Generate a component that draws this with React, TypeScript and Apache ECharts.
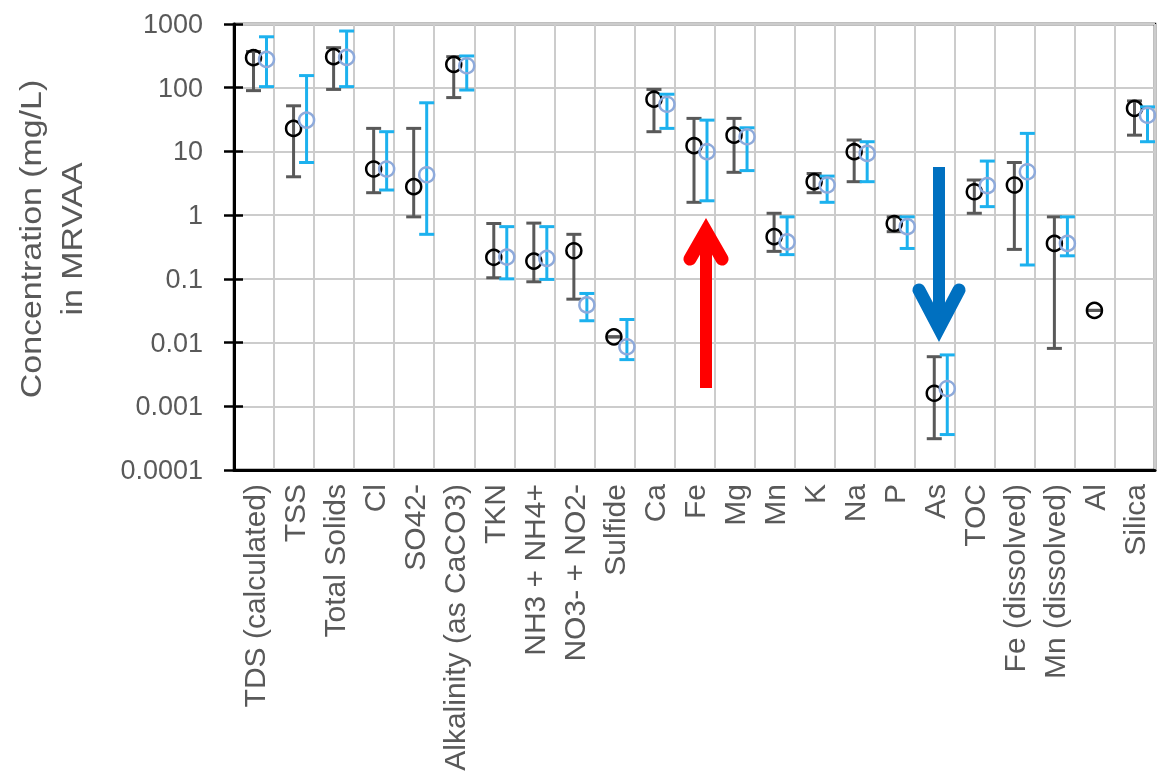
import React, { useEffect, useRef } from "react";
import * as echarts from "echarts";

const categories = [
  "TDS (calculated)", "TSS", "Total Solids", "Cl", "SO42-", "Alkalinity (as CaCO3)", "TKN",
  "NH3 + NH4+", "NO3- + NO2-", "Sulfide", "Ca", "Fe", "Mg", "Mn", "K", "Na", "P", "As", "TOC",
  "Fe (dissolved)", "Mn (dissolved)", "Al", "Silica",
];

// black series (mean, lower, upper)
const blackMean = [296, 23, 307, 5.3, 2.8, 233, 0.218, 0.19, 0.276, 0.0123, 66, 12.3, 18, 0.46, 3.35, 9.9, 0.74, 0.0016, 2.33, 2.97, 0.36, 0.032, 47.5];
const blackLow = [90, 4.0, 94, 2.25, 0.94, 70, 0.104, 0.09, 0.048, 0.0123, 20.4, 1.59, 4.7, 0.27, 2.25, 3.35, 0.55, 0.00031, 1.07, 0.29, 0.0081, 0.032, 18];
const blackHigh = [370, 52, 425, 23, 23, 307, 0.74, 0.75, 0.5, 0.0123, 94, 33, 33, 1.07, 4.5, 15.1, 0.94, 0.006, 3.56, 6.7, 0.94, 0.032, 62];

// blue series (mean, lower, upper)
const blueMean = [279, 31, 300, 5.3, 4.3, 221, 0.22, 0.21, 0.039, 0.0086, 55, 9.9, 17, 0.38, 2.97, 9.3, 0.66, 0.0019, 2.9, 4.8, 0.36, null, 37];
const blueLow = [104, 6.7, 104, 2.48, 0.5, 92, 0.1, 0.098, 0.022, 0.0054, 23, 1.68, 5.0, 0.24, 1.59, 3.35, 0.3, 0.00036, 1.36, 0.165, 0.23, null, 14.2];
const blueHigh = [630, 155, 776, 20.4, 58, 315, 0.66, 0.66, 0.059, 0.023, 79, 31, 23.5, 0.94, 4.1, 14.2, 0.94, 0.0064, 7.06, 19.2, 0.94, null, 50];

const yTickLabels = ["0.0001", "0.001", "0.01", "0.1", "1", "10", "100", "1000"];
const yTitle = ["Concentration (mg/L)", "in MRVAA"];

const FONT = "'Liberation Sans', Arial, sans-serif";
const GRAY_TEXT = "#595959";

function build(mean: (number | null)[], lo: (number | null)[], hi: (number | null)[]) {
  const out: number[][] = [];
  mean.forEach((m, i) => {
    if (m == null) return;
    out.push([i, m, lo[i] as number, hi[i] as number]);
  });
  return out;
}

function makeRender(off: number, barColor: string, circColor: string, circWidth: number) {
  return (params: any, api: any) => {
    const i = api.value(0);
    const c = api.coord([i, api.value(1)]);
    const l = api.coord([i, api.value(2)]);
    const h = api.coord([i, api.value(3)]);
    const x = c[0] + off;
    const cw = 7.5;
    const ls = { stroke: barColor, lineWidth: 3 };
    return {
      type: "group",
      children: [
        { type: "line", shape: { x1: x, y1: l[1], x2: x, y2: h[1] }, style: ls },
        { type: "line", shape: { x1: x - cw, y1: l[1], x2: x + cw, y2: l[1] }, style: ls },
        { type: "line", shape: { x1: x - cw, y1: h[1], x2: x + cw, y2: h[1] }, style: ls },
        { type: "circle", shape: { cx: x, cy: c[1], r: 7.5 }, style: { fill: "none", stroke: circColor, lineWidth: circWidth } },
      ],
    };
  };
}

export default function App() {
  const ref = useRef<HTMLDivElement>(null);
  useEffect(() => {
    const chart = echarts.init(ref.current!, null, { renderer: "svg" });
    const logFmt = (v: number) => {
      const idx = Math.round(Math.log10(v)) + 4;
      return yTickLabels[idx] ?? String(v);
    };
    const yBase = {
      type: "log",
      logBase: 10,
      min: 0.0001,
      max: 1000,
    };
    chart.setOption({
      animation: false,
      textStyle: { fontFamily: FONT },
      grid: {
        left: 234, top: 24, right: 2, bottom: 305,
        show: true, borderColor: "#000", borderWidth: 2.5,
      },
      xAxis: {
        type: "category",
        data: categories,
        boundaryGap: true,
        axisLine: { show: true, lineStyle: { color: "#000", width: 3 } },
        axisTick: { show: false },
        axisLabel: {
          interval: 0, rotate: 90, fontSize: 30, color: GRAY_TEXT, margin: 14, fontFamily: FONT,
        },
        splitLine: { show: true, interval: 0, lineStyle: { color: "#cccccc", width: 2 } },
      },
      yAxis: [
        {
          ...yBase,
          axisLine: { show: true, lineStyle: { color: "#000", width: 3 } },
          axisTick: { show: true, length: 10, lineStyle: { color: "#000", width: 2.5 } },
          axisLabel: { fontSize: 27, color: GRAY_TEXT, margin: 31, formatter: logFmt, fontFamily: FONT },
          splitLine: { show: true, lineStyle: { color: "#cccccc", width: 2 } },
        },
        {
          ...yBase,
          position: "left",
          axisLine: { show: false },
          axisTick: { show: true, inside: true, length: 9, lineStyle: { color: "#000", width: 2.5 } },
          axisLabel: { show: false },
          splitLine: { show: false },
        },
      ],
      series: [
        {
          type: "custom",
          name: "black",
          xAxisIndex: 0,
          yAxisIndex: 0,
          data: build(blackMean, blackLow, blackHigh),
          encode: { x: 0, y: 1 },
          renderItem: makeRender(-0.5, "#595959", "#000000", 2.5),
          silent: true,
          z: 3,
        },
        {
          type: "custom",
          name: "blue",
          xAxisIndex: 0,
          yAxisIndex: 0,
          data: build(blueMean, blueLow, blueHigh),
          encode: { x: 0, y: 1 },
          renderItem: makeRender(12.5, "#1cb1ee", "#8eaadb", 2.5),
          silent: true,
          z: 4,
        },
      ],
      graphic: [
        {
          type: "text", x: 31, y: 239, rotation: Math.PI / 2, scaleX: 1.13,
          style: { text: yTitle[0], fontSize: 30, fill: GRAY_TEXT, align: "center", verticalAlign: "middle", fontFamily: FONT },
        },
        {
          type: "text", x: 72, y: 239, rotation: Math.PI / 2, scaleX: 1.13,
          style: { text: yTitle[1], fontSize: 30, fill: GRAY_TEXT, align: "center", verticalAlign: "middle", fontFamily: FONT },
        },
        {
          type: "line", z: 100,
          shape: { x1: 706, y1: 388, x2: 706, y2: 236 },
          style: { stroke: "#ff0000", lineWidth: 12 },
        },
        {
          type: "polyline", z: 100,
          shape: { points: [[690, 259], [706, 231], [722, 259]] },
          style: { stroke: "#ff0000", lineWidth: 13, lineJoin: "miter", lineCap: "round", fill: "none" },
        },
        {
          type: "line", z: 100,
          shape: { x1: 939, y1: 167, x2: 939, y2: 322 },
          style: { stroke: "#0070c0", lineWidth: 12 },
        },
        {
          type: "polyline", z: 100,
          shape: { points: [[919, 290], [939, 328], [959, 290]] },
          style: { stroke: "#0070c0", lineWidth: 13, lineJoin: "miter", lineCap: "round", fill: "none" },
        },
      ],
    });
    return () => chart.dispose();
  }, []);
  return <div ref={ref} style={{ position: "fixed", left: 0, top: 0, width: 1157, height: 775 }} />;
}
